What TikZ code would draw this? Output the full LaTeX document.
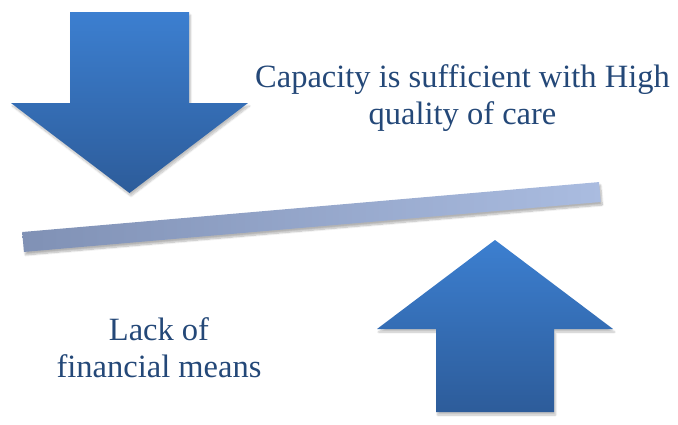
\documentclass[tikz,border=0pt]{standalone}
\usepackage{fontspec}
\setmainfont{Liberation Serif}
\usetikzlibrary{shadows.blur}
\definecolor{arrtop}{RGB}{60,127,208}
\definecolor{arrbot}{RGB}{45,92,154}
\definecolor{barleft}{RGB}{128,145,181}
\definecolor{barright}{RGB}{170,188,224}
\definecolor{txtblue}{RGB}{36,72,120}
\tikzset{
  bigarrow/.style={top color=arrtop, bottom color=arrbot, draw=none,
    blur shadow={shadow xshift=1.5pt, shadow yshift=-3pt, shadow blur steps=8, shadow opacity=25}},
  beam/.style={rectangle, draw=none, inner sep=0pt, left color=barleft, right color=barright,
    blur shadow={shadow xshift=1.5pt, shadow yshift=-3pt, shadow blur steps=8, shadow opacity=30}},
  label/.style={text=txtblue, align=center, inner sep=0pt, font=\fontsize{32.5}{37}\selectfont}
}
\begin{document}
\begin{tikzpicture}[x=1pt,y=-1pt]
\useasboundingbox (0,0) rectangle (678,424);
% down arrow
\path[bigarrow] (70,12) -- (189,12) -- (189,103) -- (248,103) -- (129.5,193) -- (11,103) -- (70,103) -- cycle;
% up arrow
\path[bigarrow] (436,412) -- (554,412) -- (554,329) -- (613,329) -- (495,240) -- (377,329) -- (436,329) -- cycle;
% beam
\node[beam, minimum width=579pt, minimum height=20pt, rotate=4.95] (beam) at (311.5,217) {};
% labels
\node[label] (top) at (462.5,98) {Capacity is sufficient with High\\quality of care};
\node[label] (bottom) at (159,348) {Lack of\\financial means};
\end{tikzpicture}
\end{document}
